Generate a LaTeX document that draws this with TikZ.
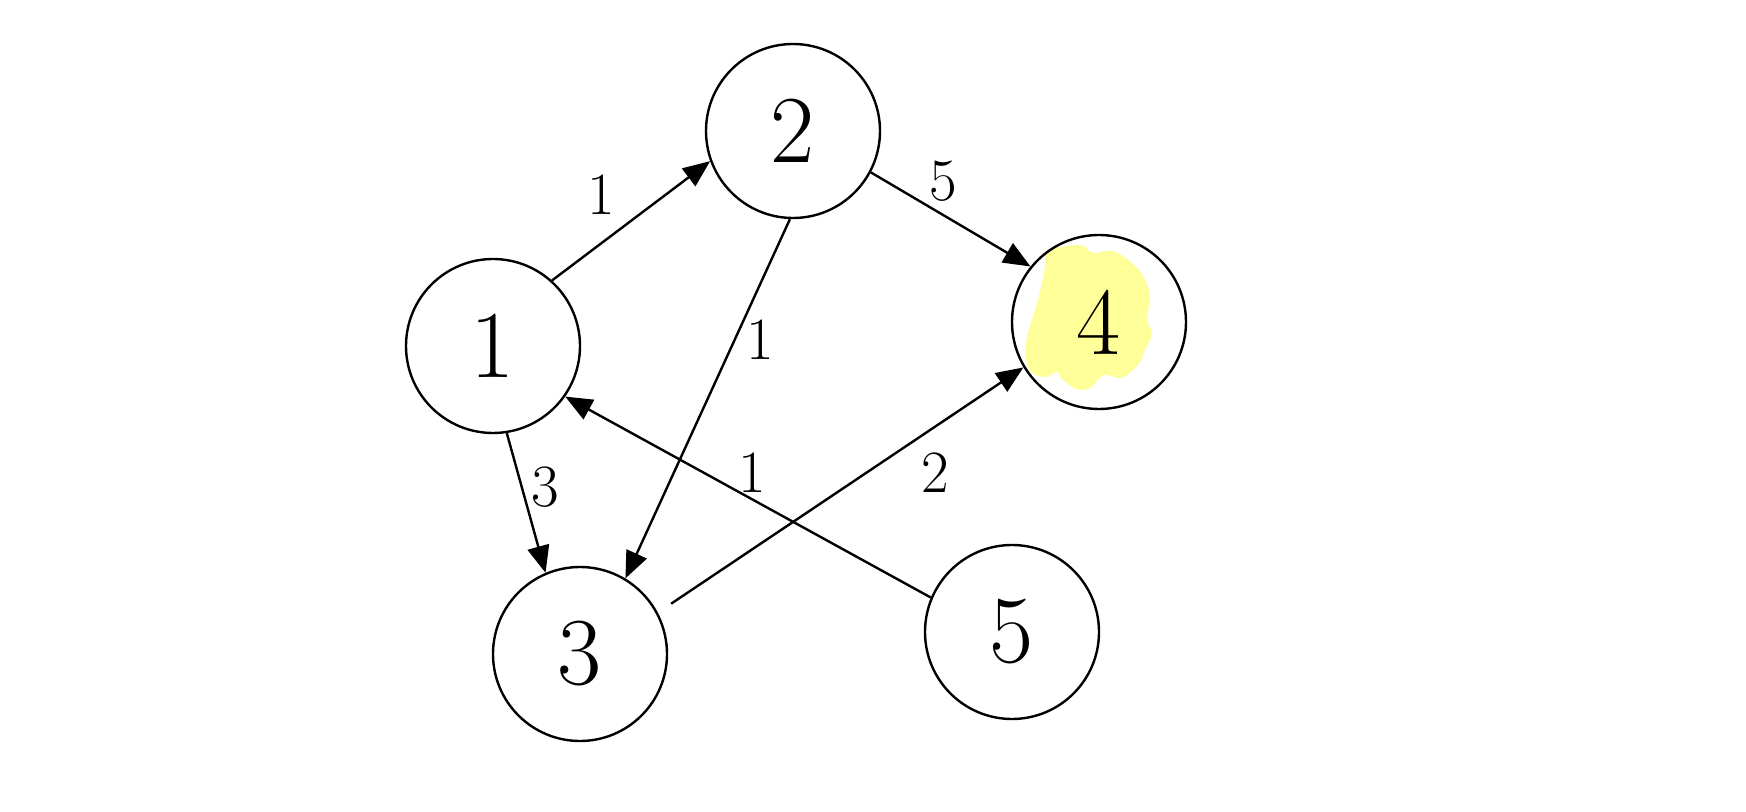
\documentclass[tikz,border=0pt]{standalone}
\usetikzlibrary{arrows.meta}
\definecolor{hl}{HTML}{FFFF99}
\begin{document}
\begin{tikzpicture}[x=0.5pt,y=-0.5pt,
  vertex/.style={circle,draw,line width=1.2pt,minimum size=87pt,inner sep=0pt,font=\fontsize{48}{54}\selectfont},
  edge/.style={line width=1.2pt,-{Triangle[length=13.5pt,width=11pt]}},
  wlabel/.style={font=\fontsize{30}{34}\selectfont,inner sep=0pt}]
\useasboundingbox (0,0) rectangle (1746,812);
\fill[hl] plot[smooth cycle,tension=0.6] coordinates {(1048,251) (1080,245) (1093,253) (1113,251) (1134,265) (1145,280) (1150,297) (1147,320) (1152,333) (1145,350) (1138,365) (1121,378) (1104,375) (1090,388) (1076,389) (1062,379) (1057,372) (1046,377) (1031,372) (1025,354) (1028,333) (1036,307) (1041,287) (1045,267)};
\node[vertex] (n1) at (493,346) {1};
\node[vertex] (n2) at (793,131) {2};
\node[vertex] (n3) at (580,654) {3};
\node[vertex] (n4) at (1099,322) {4};
\node[vertex] (n5) at (1012,632) {5};
\draw[edge] (n1.48.6) -- (n2.200.5);
\draw[edge] (n2.-28.8) -- (n4.141);
\draw[edge] (n2.-92) -- (n3.59.6);
\draw[edge] (n1.-81) -- (n3.113);
\draw[edge] (n5.157) -- (n1.-35.3);
\draw[edge,shorten <=8pt] (n3.28) -- (n4.211);
\node[wlabel] (l12) at (601,195) {1};
\node[wlabel] (l24) at (943,181) {5};
\node[wlabel] (l23) at (760,340) {1};
\node[wlabel] (l13) at (545,487) {3};
\node[wlabel] (l51) at (752,473) {1};
\node[wlabel] (l34) at (935,473) {2};
\end{tikzpicture}
\end{document}
